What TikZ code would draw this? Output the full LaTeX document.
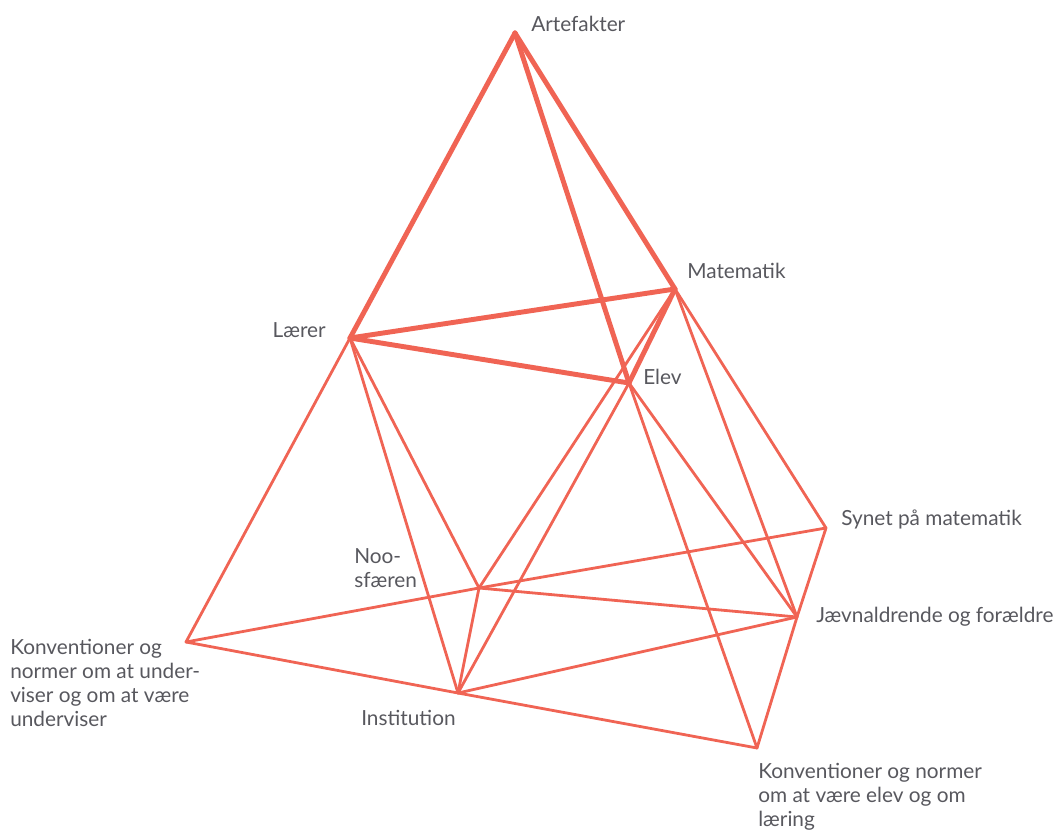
\documentclass[tikz,border=0pt]{standalone}
\usepackage{fontspec}
\setmainfont{Lato}
\definecolor{edge}{RGB}{240,100,84}
\definecolor{txt}{RGB}{88,88,94}
\begin{document}
\begin{tikzpicture}[x=0.75pt,y=-0.75pt,
  thick edge/.style={draw=edge,line width=3.7pt,line cap=round,line join=round},
  thin edge/.style={draw=edge,line width=2.1pt,line cap=round},
  lbl/.style={text=txt,font=\fontsize{15.6pt}{17.9pt}\selectfont,inner sep=0pt,align=left}]
\useasboundingbox (0,0) rectangle (1059,831);
% vertices
\coordinate (A) at (515,33);
\coordinate (L) at (350,338);
\coordinate (M) at (675,289);
\coordinate (E) at (629,383);
\coordinate (N) at (479,588);
\coordinate (KL) at (186,642);
\coordinate (I) at (458,693);
\coordinate (S) at (826,528);
\coordinate (J) at (797,617);
\coordinate (KB) at (757,748);
% thin edges
\draw[thin edge] (L) -- (KL);
\draw[thin edge] (L) -- (N);
\draw[thin edge] (L) -- (I);
\draw[thin edge] (M) -- (N);
\draw[thin edge] (E) -- (I);
\draw[thin edge] (M) -- (S);
\draw[thin edge] (M) -- (J);
\draw[thin edge] (E) -- (J);
\draw[thin edge] (E) -- (KB);
\draw[thin edge] (KL) -- (N) -- (S);
\draw[thin edge] (KL) -- (I);
\draw[thin edge] (I) -- (KB);
\draw[thin edge] (I) -- (J);
\draw[thin edge] (N) -- (J);
\draw[thin edge] (N) -- (I);
\draw[thin edge] (S) -- (J);
\draw[thin edge] (J) -- (KB);
% thick edges
\draw[thick edge] (A) -- (L);
\draw[thick edge] (A) -- (M);
\draw[thick edge] (A) -- (E);
\draw[thick edge] (L) -- (M);
\draw[thick edge] (L) -- (E);
\draw[thick edge] (M) -- (E);
% labels
\node[lbl,anchor=west] (tA) at (531,24) {Artefakter};
\node[lbl,anchor=west] (tM) at (687,271) {Matematik};
\node[lbl,anchor=east] (tL) at (326,330) {Lærer};
\node[lbl,anchor=west] (tE) at (643,377) {Elev};
\node[lbl,anchor=north west] (tN) at (354,548) {Noo-\\sfæren};
\node[lbl,anchor=west] (tS) at (841,519) {Synet på matematik};
\node[lbl,anchor=west] (tJ) at (816,617) {Jævnaldrende og forældre};
\node[lbl,anchor=north west] (tKL) at (10,639) {Konventioner og\\normer om at under-\\viser og om at være\\underviser};
\node[lbl,anchor=west] (tI) at (361,718) {Institution};
\node[lbl,anchor=north west] (tKB) at (758,763) {Konventioner og normer\\om at være elev og om\\læring};
\end{tikzpicture}
\end{document}
